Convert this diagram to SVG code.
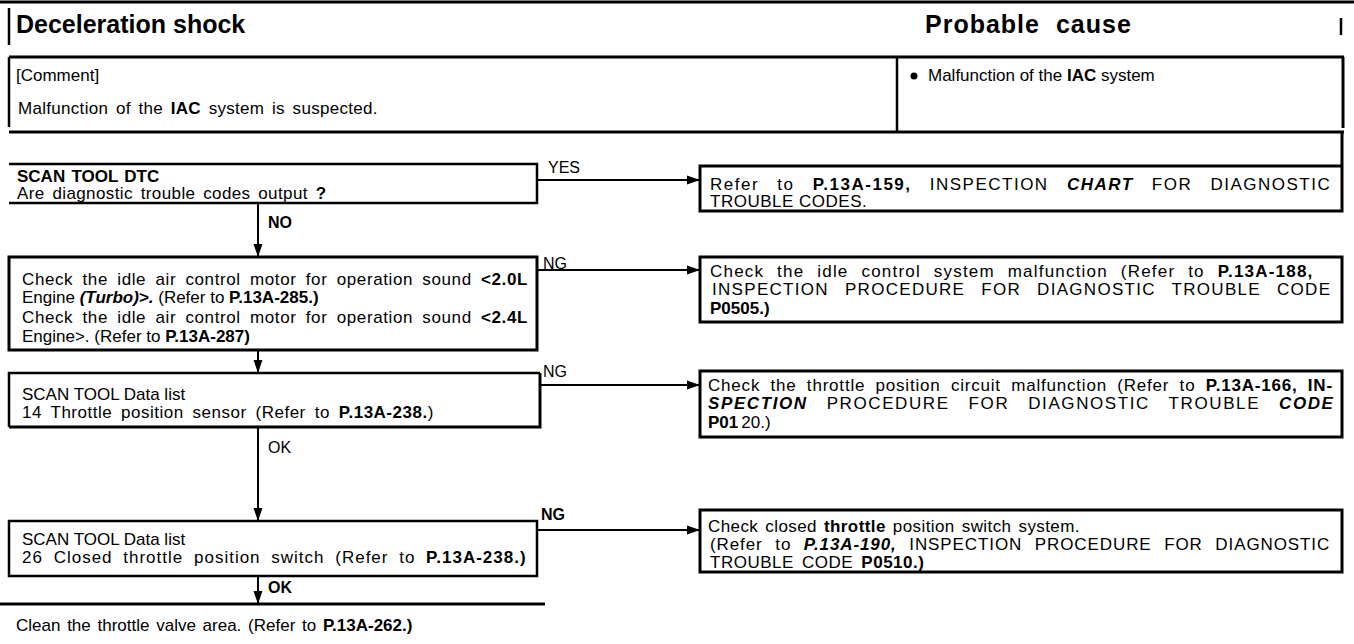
<svg xmlns="http://www.w3.org/2000/svg" width="1354" height="644" viewBox="0 0 1354 644">
<style>
text{font-family:"Liberation Sans",Arial,sans-serif;font-size:17px;fill:#000}
.h{font-size:25px;font-weight:bold}
.b{font-weight:bold}
.bi{font-weight:bold;font-style:italic}
.lbl{font-size:16px}
.ln{stroke:#000;stroke-width:2.5;fill:none}
.thk{stroke:#000;stroke-width:3;fill:none}
.box{stroke:#000;stroke-width:3;fill:none}
.con{stroke:#000;stroke-width:2;fill:none}
</style>
<defs>
<marker id="ah" markerUnits="userSpaceOnUse" markerWidth="14" markerHeight="10" refX="13" refY="5" orient="auto">
<path d="M0,0.5 L13,5 L0,9.5 z" fill="#000"/>
</marker>
</defs>

<g id="header">
<line class="thk" x1="0" y1="2" x2="1354" y2="2"/>
<line class="ln" x1="9" y1="8" x2="9" y2="45"/>
<line class="ln" x1="1341" y1="18" x2="1341" y2="35"/>
<text class="h" x="16" y="33">Deceleration shock</text>
<text class="h" x="925" y="33" letter-spacing="1" word-spacing="8">Probable cause</text>
</g>

<g id="comment">
<line class="thk" x1="9" y1="57" x2="1344" y2="57"/>
<line class="ln" x1="9" y1="57" x2="9" y2="127"/>
<line class="ln" x1="897" y1="57" x2="897" y2="132"/>
<line class="thk" x1="1343" y1="57" x2="1343" y2="128"/>
<line class="thk" x1="9" y1="132" x2="1344" y2="132"/>
<text x="16" y="81">[Comment]</text>
<text x="18" y="114" letter-spacing="0.3" word-spacing="2.7">Malfunction of the <tspan class="b">IAC</tspan> system is suspected.</text>
<circle cx="914" cy="76" r="3.5" fill="#000"/>
<text x="928" y="81">Malfunction of the <tspan class="b">IAC</tspan> system</text>
</g>

<g id="dtc">
<polyline class="ln" points="9,164 537,164 537,203 9,203"/>
<text class="b" x="17" y="182" word-spacing="1.5">SCAN TOOL DTC</text>
<text x="17" y="199" letter-spacing="0.4" word-spacing="2.6">Are diagnostic trouble codes output <tspan class="b">?</tspan></text>
</g>

<g id="r1">
<polyline class="box" points="1342,132 1342,211 700,211 700,166 1342,166"/>
<text x="710" y="190" letter-spacing="1.5" word-spacing="12">Refer to <tspan class="b">P.13A-159,</tspan> INSPECTION <tspan class="bi">CHART</tspan> FOR DIAGNOSTIC</text>
<text x="710" y="207" letter-spacing="0.5">TROUBLE CODES.</text>
</g>

<g id="iac">
<path class="thk" d="M9,257 H537 V350 H9 Z"/>
<text x="22" y="285" letter-spacing="0.6" word-spacing="4">Check the idle air control motor for operation sound <tspan class="b">&lt;2.0L</tspan></text>
<text x="22" y="303">Engine <tspan class="bi">(Turbo)&gt;.</tspan> (Refer to <tspan class="b">P.13A-285.)</tspan></text>
<text x="22" y="323" letter-spacing="0.6" word-spacing="4">Check the idle air control motor for operation sound <tspan class="b">&lt;2.4L</tspan></text>
<text x="22" y="342">Engine&gt;. (Refer to <tspan class="b">P.13A-287)</tspan></text>
</g>

<g id="r2">
<rect class="box" x="700" y="257" width="642" height="65"/>
<text x="710" y="277" letter-spacing="1.2" word-spacing="7">Check the idle control system malfunction (Refer to <tspan class="b">P.13A-188,</tspan></text>
<text x="712" y="295" letter-spacing="1.3" word-spacing="10">INSPECTION PROCEDURE FOR DIAGNOSTIC TROUBLE CODE</text>
<text class="b" x="710" y="314">P0505.)</text>
</g>

<g id="tps">
<path class="ln" d="M9,427 V373 H540"/>
<polyline class="thk" points="540,373 540,427 9,427"/>
<text x="22" y="400">SCAN TOOL Data list</text>
<text x="22" y="418" letter-spacing="0.5" word-spacing="3.7">14 Throttle position sensor (Refer to <tspan class="b">P.13A-238.</tspan>)</text>
</g>

<g id="r3">
<rect class="box" x="700" y="371" width="642" height="66"/>
<text x="708" y="391" letter-spacing="0.8" word-spacing="4.8">Check the throttle position circuit malfunction (Refer to <tspan class="b">P.13A-166, IN-</tspan></text>
<text x="708" y="409" letter-spacing="1.6" word-spacing="12.6"><tspan class="bi">SPECTION</tspan> PROCEDURE FOR DIAGNOSTIC TROUBLE <tspan class="bi">CODE</tspan></text>
<text x="708" y="428"><tspan class="b">P01</tspan><tspan dx="3">20.)</tspan></text>
</g>

<g id="ctps">
<path class="ln" d="M9,521 H537 V576 H9 Z"/>
<text x="22" y="545">SCAN TOOL Data list</text>
<text x="22" y="563" letter-spacing="1" word-spacing="5">26 Closed throttle position switch (Refer to <tspan class="b">P.13A-238.)</tspan></text>
</g>

<g id="r4">
<rect class="box" x="700" y="510" width="642" height="62"/>
<text x="708" y="532" letter-spacing="0.4" word-spacing="2">Check closed <tspan class="b">throttle</tspan> position switch system.</text>
<text x="710" y="550" letter-spacing="0.9" word-spacing="7">(Refer to <tspan class="bi">P.13A-190,</tspan> INSPECTION PROCEDURE FOR DIAGNOSTIC</text>
<text x="710" y="568" letter-spacing="0.5" word-spacing="3">TROUBLE CODE <tspan class="b">P0510.)</tspan></text>
</g>

<g id="clean">
<line class="thk" x1="0" y1="604" x2="545" y2="604"/>
<text x="16" y="631" word-spacing="2">Clean the throttle valve area. (Refer to <tspan class="b">P.13A-262.)</tspan></text>
</g>

<g id="connectors">
<line class="con" x1="537" y1="180" x2="700" y2="180" marker-end="url(#ah)"/>
<line class="con" x1="537" y1="270" x2="700" y2="270" marker-end="url(#ah)"/>
<line class="con" x1="540" y1="385" x2="700" y2="385" marker-end="url(#ah)"/>
<line class="con" x1="537" y1="530" x2="700" y2="530" marker-end="url(#ah)"/>
<line class="con" x1="258" y1="203" x2="258" y2="257" marker-end="url(#ah)"/>
<line class="con" x1="258" y1="350" x2="258" y2="373" marker-end="url(#ah)"/>
<line class="con" x1="258" y1="427" x2="258" y2="521" marker-end="url(#ah)"/>
<line class="con" x1="258" y1="576" x2="258" y2="604" marker-end="url(#ah)"/>
<text class="lbl" x="548" y="173">YES</text>
<text class="lbl b" x="268" y="228">NO</text>
<text class="lbl" x="543" y="269">NG</text>
<text class="lbl" x="543" y="377">NG</text>
<text class="lbl" x="268" y="453">OK</text>
<text class="lbl b" x="541" y="520">NG</text>
<text class="lbl b" x="268" y="593">OK</text>
</g>
</svg>
